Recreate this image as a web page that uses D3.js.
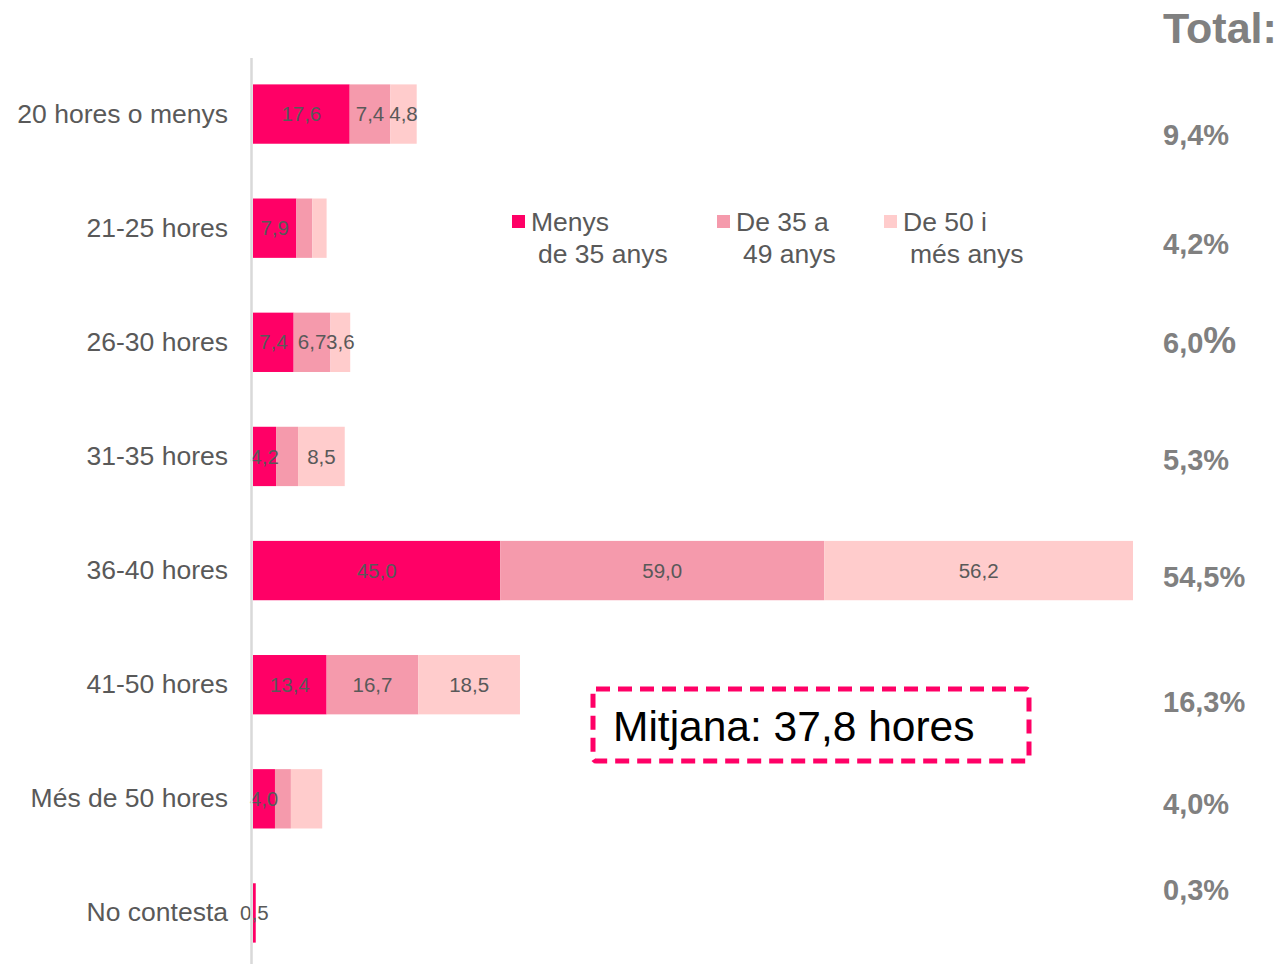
<!DOCTYPE html>
<html><head><meta charset="utf-8">
<script src="https://cdn.jsdelivr.net/npm/d3@7"></script>
<style>
body{margin:0;background:#fff;}
text{font-family:"Liberation Sans",Arial,sans-serif;}
</style></head>
<body><svg id="c" width="1278" height="964"></svg>
<script>
const categories = ["20 hores o menys","21-25 hores","26-30 hores","31-35 hores","36-40 hores","41-50 hores","Més de 50 hores","No contesta"];
const seriesNames = [["Menys","de 35 anys"],["De 35 a","49 anys"],["De 50 i","més anys"]];
const under35 = [17.6, 7.9, 7.4, 4.2, 45.0, 13.4, 4.0, 0.5];
const from35to49 = [7.4, 2.9, 6.7, 4.0, 59.0, 16.7, 2.9, 0];
const over50 = [4.8, 2.6, 3.6, 8.5, 56.2, 18.5, 5.7, 0];
// which values are labelled in the original
const showUnder35 = [true,true,true,true,true,true,true,true];
const showFrom35 = [true,false,true,false,true,true,false,false];
const showOver50 = [true,false,true,true,true,true,false,false];
const totals = ["9,4","4,2","6,0","5,3","54,5","16,3","4,0","0,3"];
const meanLabel = "Mitjana: 37,8 hores";

const colors = ["#FF0066","#F59AAC","#FFCCCC"];
const svg = d3.select("#c");

const x = d3.scaleLinear().domain([0,160.2]).range([253,1133]);
const y = d3.scaleBand().domain(categories).range([57,970]).paddingInner(0.48).paddingOuter(0.24);

const series = [under35, from35to49, over50];
const shows = [showUnder35, showFrom35, showOver50];
const rows = categories.map((c,i)=>{
  let acc=0;
  return series.map((s,k)=>{const d={cat:c,k,x0:acc,x1:acc+s[i],v:s[i],show:shows[k][i]}; acc+=s[i]; return d;});
});
const segs = rows.flat();

svg.append("g").selectAll("rect").data(segs.filter(d=>d.v>0)).join("rect")
  .attr("x",d=>x(d.x0)).attr("width",d=>x(d.x1)-x(d.x0))
  .attr("y",d=>y(d.cat)).attr("height",y.bandwidth())
  .attr("fill",d=>colors[d.k]);

svg.append("g").selectAll("text").data(segs.filter(d=>d.show)).join("text")
  .attr("x",d=>(x(d.x0)+x(d.x1))/2).attr("y",d=>y(d.cat)+y.bandwidth()/2)
  .attr("dy","0.35em").attr("text-anchor","middle")
  .attr("font-size",20.5).attr("fill","#595959")
  .text(d=>d3.format(".1f")(d.v).replace(".",","));

// axis line
svg.append("line").attr("x1",251.5).attr("x2",251.5).attr("y1",58).attr("y2",964)
  .attr("stroke","#D9D9D9").attr("stroke-width",2.5);

// category labels
const yAxis = d3.axisLeft(y).tickSize(0).tickPadding(0);
const ga = svg.append("g").attr("transform","translate(228,0)").call(yAxis);
ga.select(".domain").remove();
ga.selectAll("text").attr("font-size",26.5).attr("fill","#595959")
  .attr("font-family","'Liberation Sans',Arial,sans-serif");

// Totals
svg.append("text").attr("x",1163).attr("y",43).attr("font-size",43).attr("font-weight","bold")
  .attr("fill","#808080").text("Total:");
const totOffsets = [21,16,1,3,6,17,5,-23];
const tt = svg.append("g").selectAll("text").data(categories).join("text")
  .attr("x",1163).attr("y",(c,i)=>y(c)+y.bandwidth()/2+totOffsets[i]).attr("dy","0.35em")
  .attr("font-size",29).attr("font-weight","bold").attr("fill","#808080");
tt.each(function(c,i){
  const t=d3.select(this);
  t.append("tspan").text(totals[i]);
  t.append("tspan").attr("font-size", i===2?37:29).text("%");
});

// legend
const lx = [512,717,884];
const lg = svg.append("g");
seriesNames.forEach((n,k)=>{
  lg.append("rect").attr("x",lx[k]).attr("y",215).attr("width",13).attr("height",13).attr("fill",colors[k]);
  lg.append("text").attr("x",lx[k]+19).attr("y",231).attr("font-size",26.5).attr("fill","#595959").text(n[0]);
  lg.append("text").attr("x",lx[k]+26).attr("y",263).attr("font-size",26.5).attr("fill","#595959").text(n[1]);
});

// mean box
svg.append("rect").attr("x",593).attr("y",689).attr("width",436).attr("height",72).attr("rx",3)
  .attr("fill","none").attr("stroke","#FF0066").attr("stroke-width",5).attr("stroke-dasharray","14,8");
svg.append("text").attr("x",613).attr("y",741).attr("font-size",42.5).attr("fill","#000").text(meanLabel);
</script></body></html>
